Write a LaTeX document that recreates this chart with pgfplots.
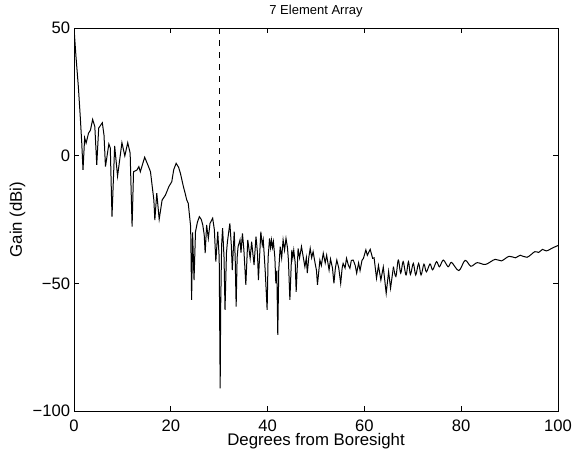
\documentclass[border=0pt]{standalone}
\usepackage{pgfplots}
\pgfplotsset{compat=1.18}
\usepackage{fontspec}
\setmainfont{Liberation Sans}
\begin{document}
\begin{tikzpicture}
\begin{axis}[
  scale only axis,
  width=242pt, height=191.5pt,
  xmin=0, xmax=100, ymin=-100, ymax=50,
  xtick={0,20,40,60,80,100},
  ytick={-100,-50,0,50},
  yticklabels={{−100},{−50},0,50},
  tick align=inside,
  major tick length=2.4pt,
  axis line style={line width=0.5pt},
  every tick/.style={line width=0.5pt,black},
  /pgf/number format/assume math mode=true,
  tick label style={font=\fontsize{8.3}{10}\selectfont},
  xticklabel style={anchor=base, yshift=-10pt},
  yticklabel style={anchor=east, inner sep=0pt, xshift=-1.8pt},
  xlabel={Degrees from Boresight},
  ylabel={Gain (dBi)},
  label style={font=\fontsize{8.4}{10}\selectfont},
  xlabel style={at={(axis description cs:0.5,-0.0888)}, anchor=base},
  ylabel style={at={(axis description cs:-0.1167,0.5)}, anchor=center},
  every axis title shift=0pt,
  title={7 Element Array},
  title style={at={(axis description cs:0.5,1.044)}, anchor=center, font=\fontsize{6.5}{8}\selectfont},
  clip=true,
]
\addplot[black, line width=0.5pt] coordinates {
(0,50) (0.4,39) (0.9,27) (1.3,15) (1.6,5) (1.86,-5.6) (2.2,7) (2.5,4.9) (3.0,8.8) (3.4,10)
(3.85,14.2) (4.3,11.4) (4.7,-3.6) (5.1,10.8) (5.85,12.9) (6.2,8) (6.5,-4.3) (7.2,4.6) (7.5,3)
(7.85,-23.9) (8.4,3.8) (9.0,-8) (9.9,5.1) (10.5,-0.1) (11.1,5.1) (11.6,1) (12.0,-27.8)
(12.3,-6.3) (13.0,-5.6) (13.4,-4.3) (13.7,-6.3) (14.6,-0.6) (15.4,-4.3) (15.8,-6.3)
(16.5,-17.4) (16.7,-25.2) (17.1,-14.7) (17.6,-24.9) (18.2,-17.4) (18.9,-15.4) (19.6,-12.1)
(20.2,-10.2) (20.6,-5.5) (21.1,-3) (21.6,-4.5) (22.0,-7) (22.6,-12.1) (23.0,-15) (23.3,-17.4)
(23.6,-18.6) (24.1,-27.8) (24.3,-56.5) (24.5,-30) (24.8,-48.7) (25.1,-29.8) (25.5,-26)
(25.9,-23.9) (26.3,-25) (26.6,-27.1) (26.9,-31) (27.1,-38.2) (27.4,-27.1) (27.75,-32.4)
(28.1,-26.5) (28.65,-24.5) (29.0,-29) (29.3,-41.5) (29.7,-29.8) (30.0,-40) (30.2,-91.1)
(30.3,-59.8) (30.5,-35) (30.7,-28.4) (31.0,-40) (31.2,-60.4) (31.5,-38) (31.7,-33.7)
(32.2,-26.5) (32.5,-35) (32.7,-44.8) (33.1,-29.8) (33.3,-40) (33.5,-59.1) (33.7,-40)
(33.9,-35.6) (34.3,-33) (34.5,-38) (34.8,-30.4) (35.1,-36.9) (35.5,-50.6) (35.9,-33)
(36.4,-40.2) (36.7,-33.7) (37.2,-42.8) (37.6,-31.7) (37.9,-38) (38.1,-48.7) (38.6,-29.8)
(38.9,-35) (39.1,-33) (39.5,-45) (39.7,-52.6) (39.9,-60.4) (40.1,-40) (40.4,-32.4)
(40.6,-36) (40.8,-33) (41.0,-36) (41.2,-33.7) (41.5,-40) (41.7,-50) (41.9,-45) (42.1,-70.2)
(42.3,-45) (42.6,-35.6) (42.9,-40) (43.2,-33) (43.5,-37) (43.8,-32.4) (44.1,-36) (44.3,-40.9)
(44.6,-56.5) (45.0,-36.9) (45.2,-40) (45.4,-37) (45.7,-42) (45.9,-53.3) (46.3,-36.3)
(46.6,-40) (47.0,-35.6) (47.3,-39) (47.7,-43.5) (48.0,-40) (48.2,-46) (48.5,-40) (48.8,-36.3)
(49.1,-40) (49.4,-37.6) (49.8,-42) (50.1,-45) (50.3,-50.6) (50.8,-40.9) (51.1,-43)
(51.5,-38.2) (51.9,-42) (52.2,-39) (52.7,-44.8) (53.0,-40.5) (53.4,-44) (53.7,-50) (54.0,-44)
(54.3,-40.9) (54.7,-44) (55.1,-50) (55.4,-44) (55.6,-42.2) (56.0,-44) (56.3,-40.2) (56.7,-43)
(57.0,-44.1) (57.3,-41) (57.7,-40.9) (58.1,-43) (58.4,-46) (58.8,-42) (59.1,-45) (59.5,-41)
(59.8,-40.2) (60.3,-36.9) (60.6,-39) (61.2,-36.7) (61.7,-40.2) (62.0,-40) (62.5,-48)
(62.9,-43) (63.4,-48.7) (63.9,-43.6) (64.5,-53.9) (65.0,-45.4) (65.4,-51.9) (66.0,-43.5)
};
\addplot[black, line width=0.5pt, smooth, tension=0.55] coordinates {
(66.0,-43.5)
(66.5,-47.3) (67.0,-40.9) (67.5,-46) (68.0,-41.5) (68.6,-46.7) (69.1,-41.5) (69.5,-46.5)
(70.1,-42.2) (70.6,-46.7) (71.2,-42.2) (71.7,-46.7) (72.3,-42.5) (72.8,-45.5) (73.55,-42.4)
(74.1,-44.7) (74.9,-41.5) (75.5,-43.5) (76.3,-40.9) (77.3,-43.5) (78.0,-41.8) (79.5,-45)
(80.8,-41) (82.0,-43.3) (83.3,-41.9) (85.0,-42.6) (87.0,-40.6) (88.3,-41.2) (89.9,-39.4)
(91.2,-40) (92.2,-39) (93.6,-39.8) (95.2,-37.6) (96.0,-37.9) (96.8,-36.7) (97.6,-37.3)
(99.0,-36) (100,-35.2)
};
\addplot[black, dashed, line width=0.5pt] coordinates {(30,50) (30,-10)};
\coordinate (bl) at (axis cs:-15.29,-117.6);
\coordinate (tr) at (axis cs:103.3,60.97);
\end{axis}
\pgfresetboundingbox
\path (bl) rectangle (tr);
\end{tikzpicture}
\end{document}
